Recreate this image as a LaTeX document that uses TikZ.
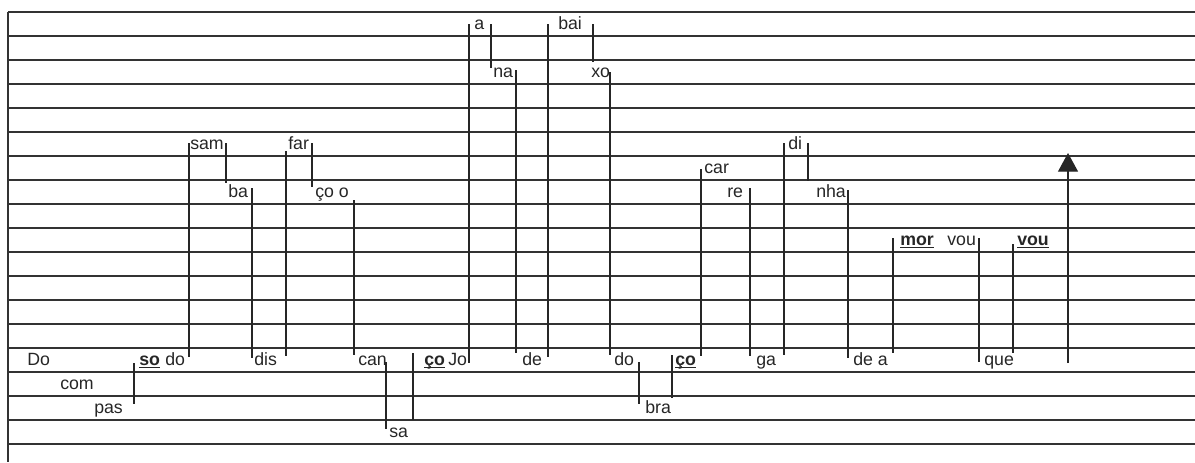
\documentclass[tikz,border=0pt]{standalone}
\usepackage{fontspec}
\setmainfont{Liberation Sans}
\usetikzlibrary{arrows.meta,calc}

% stressed syllable: bold, underlined
\newcommand{\tonic}[1]{\setbox0\hbox{\bfseries #1}\rlap{\rule[-2.2pt]{\wd0}{0.8pt}}\box0}

\begin{document}
\begin{tikzpicture}[>=Stealth,x=0.75pt,y=-0.75pt,
 syl/.style={anchor=base west,inner sep=0pt,font=\fontsize{13.3}{16}\selectfont,text=black!85},
 stave/.style={draw=black!80,line width=1.1pt},
 stem/.style={draw=black!85,line width=0.9pt}]
\useasboundingbox (0,0) rectangle (1195,462);

% staff
\foreach \k in {0,...,18}
  \draw[stave] (8,12+24*\k) -- (1195,12+24*\k);
\draw[stave] (8,12) -- (8,462);

% syllables
\node[syl] (Do) at (27,365) {Do};
\node[syl] (com) at (60,389) {com};
\node[syl] (pas) at (94,413) {pas};
\node[syl] (so) at (139,365) {\tonic{so}};
\node[syl] (do) at (165,365) {do};
\node[syl] (sam) at (190,149) {sam};
\node[syl] (ba) at (228,197) {ba};
\node[syl] (dis) at (254,365) {dis};
\node[syl] (far) at (288,149) {far};
\node[syl] (coo) at (315,197) {ço o};
\node[syl] (can) at (358,365) {can};
\node[syl] (sa) at (389,437) {sa};
\node[syl] (co) at (424,365) {\tonic{ço}};
\node[syl] (Jo) at (448,365) {Jo};
\node[syl] (a) at (474,29) {a};
\node[syl] (na) at (493,77) {na};
\node[syl] (de) at (522,365) {de};
\node[syl] (bai) at (558,29) {bai};
\node[syl] (xo) at (591,77) {xo};
\node[syl] (dob) at (614,365) {do};
\node[syl] (bra) at (645,413) {bra};
\node[syl] (cob) at (675,365) {\tonic{ço}};
\node[syl] (car) at (704,173) {car};
\node[syl] (re) at (727,197) {re};
\node[syl] (ga) at (756,365) {ga};
\node[syl] (di) at (788,149) {di};
\node[syl] (nha) at (816,197) {nha};
\node[syl] (dea) at (853,365) {de a};
\node[syl] (mor) at (900,245) {\tonic{mor}};
\node[syl] (vou) at (947,245) {vou};
\node[syl] (que) at (984,365) {que};
\node[syl] (voub) at (1017,245) {\tonic{vou}};

% stems between syllables
\draw[stem] ($(so.base west)+(-5,-2)$) -- ($(so.base west |- pas.base)+(-5,-9)$);
\draw[stem] ($(sam.base west)+(-1,-6)$) -- ($(sam.base west |- do.base)+(-1,-8)$);
\draw[stem] ($(ba.base west |- sam.base)+(-2,-6)$) -- ($(ba.base west)+(-2,-14)$);
\draw[stem] ($(dis.base west |- ba.base)+(-2,-9)$) -- ($(dis.base west)+(-2,-7)$);
\draw[stem] ($(far.base west)+(-2,2)$) -- ($(far.base west |- dis.base)+(-2,-9)$);
\draw[stem] ($(coo.base west |- far.base)+(-3,-6)$) -- ($(coo.base west)+(-3,-10)$);
\draw[stem] ($(can.base west |- coo.base)+(-4,3)$) -- ($(can.base west)+(-4,-10)$);
\draw[stem] ($(sa.base west |- can.base)+(-3,-3)$) -- ($(sa.base west)+(-3,-8)$);
\draw[stem] ($(co.base west)+(-11,-12)$) -- ($(co.base west |- sa.base)+(-11,-17)$);
\draw[stem] ($(a.base west)+(-5,-5)$) -- ($(a.base west |- Jo.base)+(-5,-2)$);
\draw[stem] ($(na.base west |- a.base)+(-2,-5)$) -- ($(na.base west)+(-2,-9)$);
\draw[stem] ($(de.base west |- na.base)+(-6,-7)$) -- ($(de.base west)+(-6,-12)$);
\draw[stem] ($(bai.base west)+(-10,-5)$) -- ($(bai.base west |- de.base)+(-10,-8)$);
\draw[stem] ($(xo.base west |- bai.base)+(2,-5)$) -- ($(xo.base west)+(2,-15)$);
\draw[stem] ($(dob.base west |- xo.base)+(-4,-5)$) -- ($(dob.base west)+(-4,-10)$);
\draw[stem] ($(bra.base west |- dob.base)+(-6,-3)$) -- ($(bra.base west)+(-6,-9)$);
\draw[stem] ($(cob.base west)+(-3,-10)$) -- ($(cob.base west |- bra.base)+(-3,-15)$);
\draw[stem] ($(car.base west)+(-3,-4)$) -- ($(car.base west |- cob.base)+(-3,-9)$);
\draw[stem] ($(ga.base west |- re.base)+(-6,-9)$) -- ($(ga.base west)+(-6,-9)$);
\draw[stem] ($(di.base west)+(-4,-6)$) -- ($(di.base west |- ga.base)+(-4,-10)$);
\draw[stem] ($(nha.base west |- di.base)+(-8,-6)$) -- ($(nha.base west)+(-8,-16)$);
\draw[stem] ($(dea.base west |- nha.base)+(-5,-7)$) -- ($(dea.base west)+(-5,-7)$);
\draw[stem] ($(mor.base west)+(-7,-7)$) -- ($(mor.base west |- dea.base)+(-7,-12)$);
\draw[stem] ($(que.base west |- vou.base)+(-5,-7)$) -- ($(que.base west)+(-5,-3)$);
\draw[stem] ($(voub.base west)+(-4,-1)$) -- ($(voub.base west |- que.base)+(-4,-12)$);

% final rise
\coordinate (rise) at ($(que.base west)+(84,-2)$);
\coordinate (peak) at (1068,153);
\draw[stem,-{Triangle[width=15pt,length=14pt]}] (rise) -- (peak);
\end{tikzpicture}
\end{document}
